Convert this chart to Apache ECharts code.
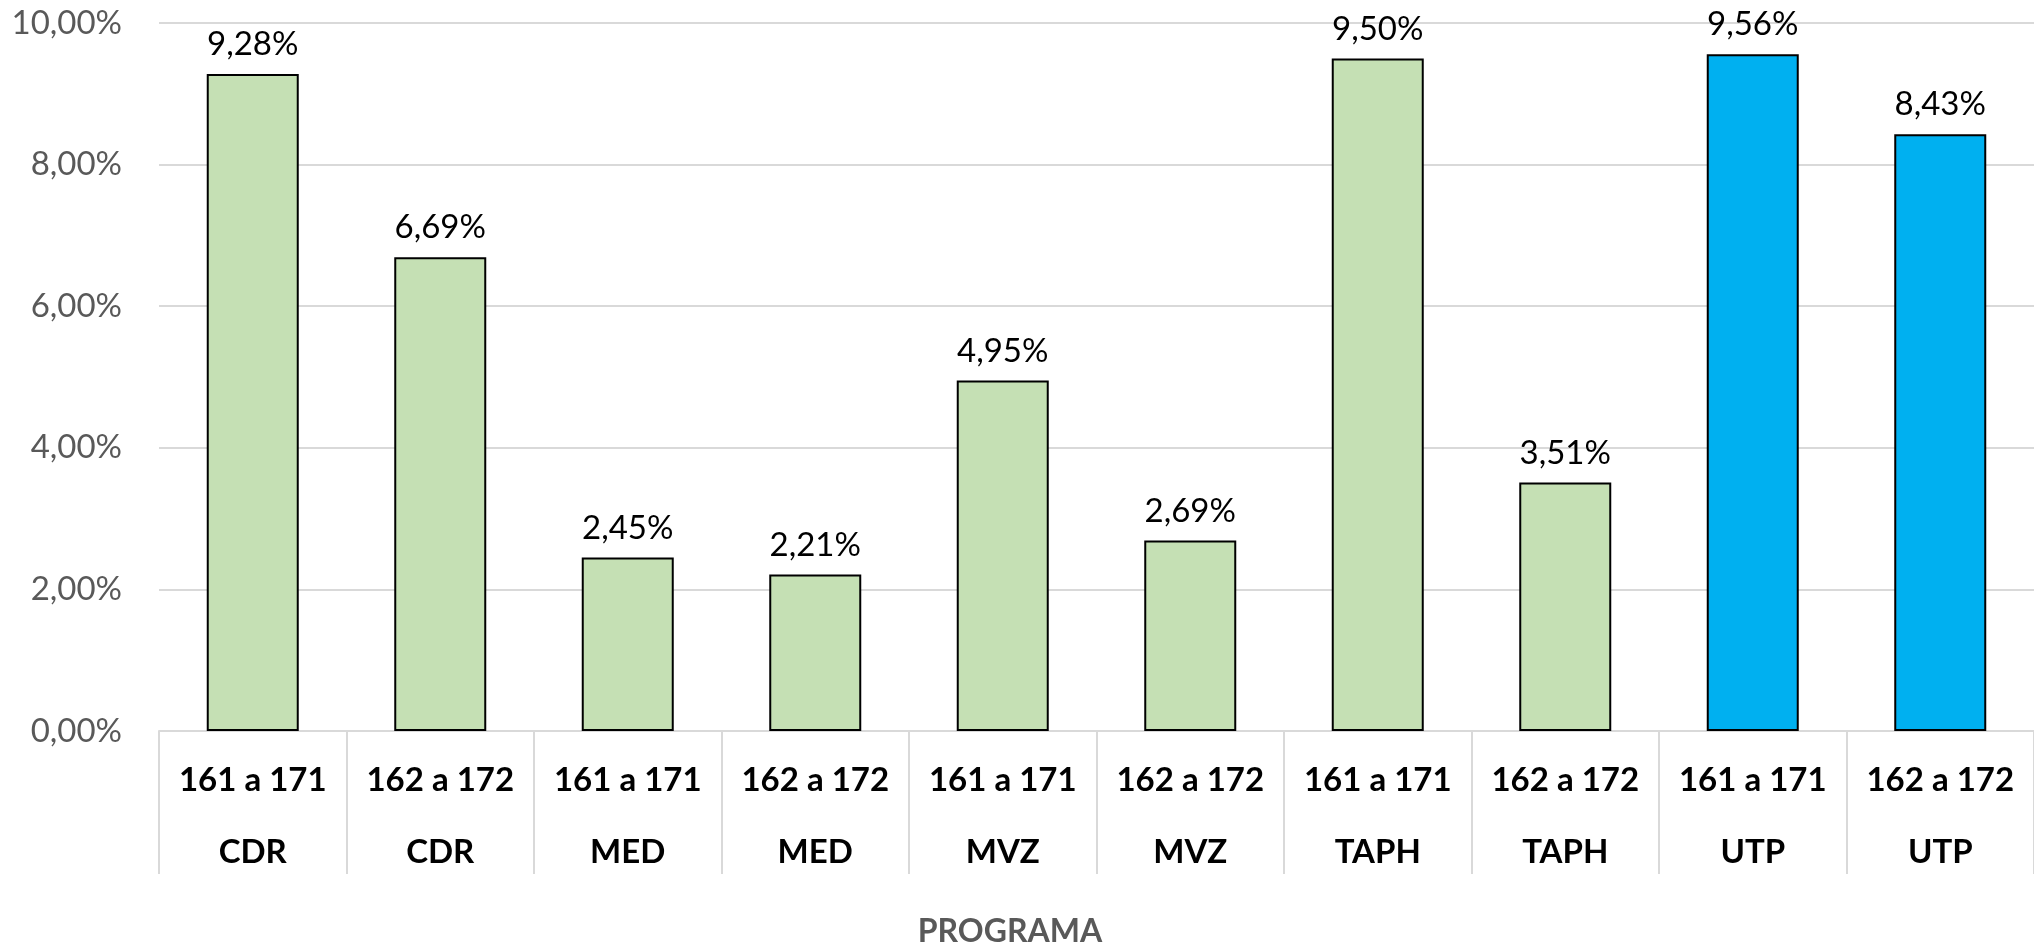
<!DOCTYPE html>
<html>
<head>
<meta charset="utf-8">
<script src="https://cdn.jsdelivr.net/npm/echarts@6/dist/echarts.min.js"></script>
<style>
html,body{margin:0;padding:0;background:#fff;}
#chart{width:2034px;height:948px;}
</style>
</head>
<body>
<div id="chart"></div>
<script>
const periods = ['161 a 171','162 a 172','161 a 171','162 a 172','161 a 171','162 a 172','161 a 171','162 a 172','161 a 171','162 a 172'];
const programs = ['CDR','CDR','MED','MED','MVZ','MVZ','TAPH','TAPH','UTP','UTP'];
const values = [9.28, 6.69, 2.45, 2.21, 4.95, 2.69, 9.50, 3.51, 9.56, 8.43];
const yTicks = [0, 2, 4, 6, 8, 10];
const axisTitle = 'PROGRAMA';

const GREEN = '#C5E0B4';
const BLUE = '#00B0F0';
const FONT = 'Lato';

const categories = periods.map((p, i) => p + '\n' + programs[i]);
const fmt = v => v.toFixed(2).replace('.', ',') + '%';

const chart = echarts.init(document.getElementById('chart'));
chart.setOption({
  animation: false,
  backgroundColor: '#fff',
  grid: { left: 159, width: 1883, top: 23, bottom: 217, containLabel: false },
  xAxis: {
    type: 'category',
    data: categories,
    axisLine: { show: true, lineStyle: { color: '#d9d9d9', width: 2 } },
    axisTick: { show: true, interval: 0, length: 143, lineStyle: { color: '#d9d9d9', width: 2 } },
    axisLabel: {
      interval: 0, margin: 13, lineHeight: 72,
      fontFamily: FONT, fontWeight: 'bold', fontSize: 33, color: '#000'
    },
    splitLine: { show: false }
  },
  yAxis: {
    type: 'value',
    min: yTicks[0], max: yTicks[yTicks.length - 1], interval: 2,
    axisLine: { show: false },
    axisTick: { show: false },
    axisLabel: {
      margin: 37, fontFamily: FONT, fontSize: 33, color: '#595959',
      formatter: v => fmt(v)
    },
    splitLine: { lineStyle: { color: '#d9d9d9', width: 2 } }
  },
  series: [{
    type: 'bar',
    data: values.map((v, i) => ({
      value: v,
      itemStyle: { color: programs[i] === 'UTP' ? BLUE : GREEN }
    })),
    barWidth: 92,
    itemStyle: { borderColor: '#000', borderWidth: 2 },
    label: {
      show: true, position: 'top', distance: 13,
      fontFamily: FONT, fontSize: 33, color: '#000',
      formatter: p => fmt(p.value)
    }
  }],
  graphic: [{
    type: 'text',
    x: 1010, y: 932,
    style: {
      text: axisTitle,
      textAlign: 'center', textVerticalAlign: 'middle',
      fontFamily: FONT, fontWeight: 'bold', fontSize: 32, fill: '#595959'
    }
  }]
});
</script>
</body>
</html>
